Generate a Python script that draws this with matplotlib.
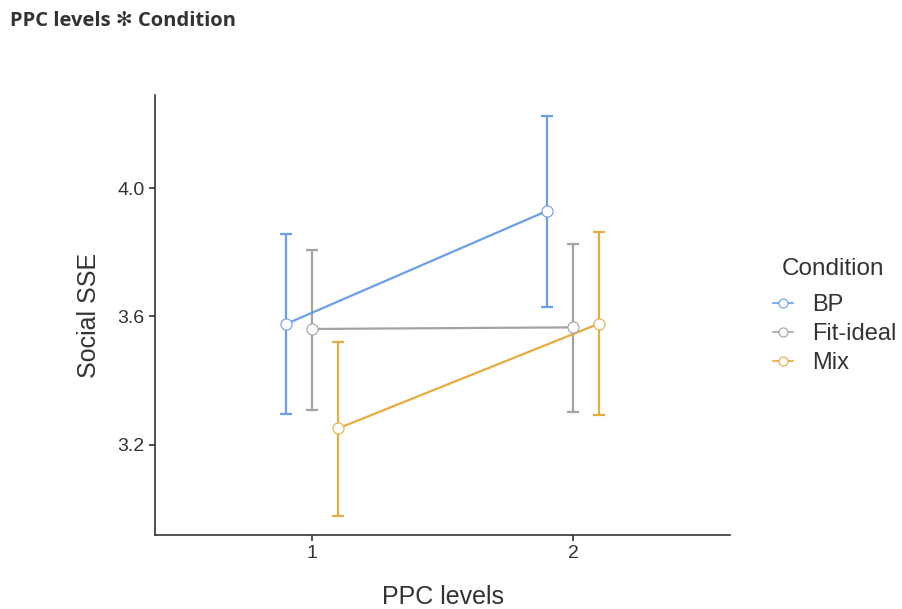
import matplotlib
matplotlib.use("Agg")
import matplotlib.pyplot as plt
from matplotlib.lines import Line2D
import numpy as np

levels = ["1", "2"]
conditions = ["BP", "Fit-ideal", "Mix"]
means = {"BP": [3.576, 3.929], "Fit-ideal": [3.561, 3.566], "Mix": [3.251, 3.578]}
lower = {"BP": [3.295, 3.630], "Fit-ideal": [3.309, 3.301], "Mix": [2.979, 3.293]}
upper = {"BP": [3.856, 4.226], "Fit-ideal": [3.808, 3.826], "Mix": [3.519, 3.862]}
colors = {"BP": "#6B9DE8", "Fit-ideal": "#A3A3A3", "Mix": "#E6AC40"}
dodge = {"BP": -0.1, "Fit-ideal": 0.0, "Mix": 0.1}

plt.rcParams['font.family'] = ['Liberation Sans', 'DejaVu Sans']

fig = plt.figure(figsize=(9.03, 6.09), dpi=100)
ax = fig.add_axes([0.1717, 0.1215, 0.8084 - 0.1717, 0.844 - 0.1215])

xbase = np.arange(1, len(levels) + 1)
handles = []
for c in conditions:
    x = xbase + dodge[c]
    m = np.array(means[c])
    lo = m - np.array(lower[c])
    hi = np.array(upper[c]) - m
    ax.errorbar(x, m, yerr=[lo, hi], fmt='none', ecolor=colors[c], elinewidth=1.6,
                capsize=4, capthick=1.6, zorder=2)
    ax.plot(x, m, color=colors[c], lw=1.6, zorder=3)
    ax.plot(x, m, 'o', ms=8, mfc='white', mec=colors[c], mew=0.8, zorder=4)
    handles.append(Line2D([0], [0], color=colors[c], lw=1.2, marker='o', ms=6.5,
                          mfc='white', mec=colors[c], mew=0.8))

ax.set_xlim(0.4, 2.6)
ax.set_ylim(2.919, 4.29)
ax.set_xticks(xbase)
ax.set_xticklabels(levels)
ax.set_yticks([3.2, 3.6, 4.0])
ax.set_yticklabels(["3.2", "3.6", "4.0"])

for s in ["top", "right"]:
    ax.spines[s].set_visible(False)
for s in ["left", "bottom"]:
    ax.spines[s].set_color("#333333")
    ax.spines[s].set_linewidth(1.2)
ax.tick_params(axis='both', colors="#333333", labelcolor="#333333", length=4,
               width=1.2, labelsize=14)

ax.set_xlabel("PPC levels", fontsize=18, color="#333333", labelpad=16)
ax.set_ylabel("Social SSE", fontsize=18, color="#333333", labelpad=12)

leg = fig.legend(handles, conditions, loc='center left',
                 bbox_to_anchor=(0.856, 1 - 334 / 609), frameon=False, fontsize=17,
                 handlelength=0.85, handletextpad=0.8,
                 labelspacing=0.3, borderaxespad=0, borderpad=0)
for t in leg.get_texts():
    t.set_color("#333333")
fig.text(782 / 903, 1 - 269 / 609, "Condition", fontsize=17.5, color="#333333",
         va='center', ha='left')

fig.text(0.011, 0.965, "PPC levels \u273B Condition", fontsize=14.5, fontweight='bold',
         color="#333333", family=['Open Sans', 'DejaVu Sans'], va='center', ha='left')

fig.savefig("out.png", dpi=100)
